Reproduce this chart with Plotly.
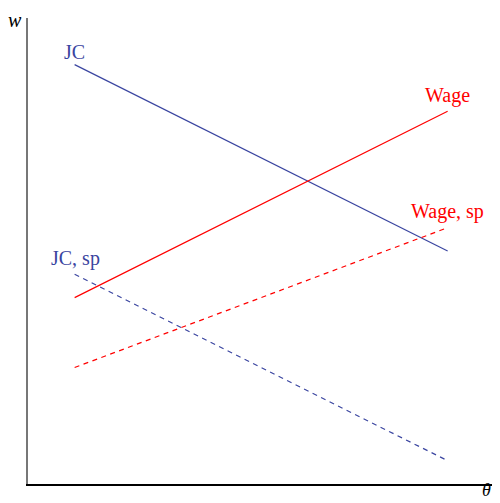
import plotly.graph_objects as go

theta = [1, 9]
jc = [9, 5]
wage = [4, 8]
wage_sp = [2.5, 5.5]
jc_sp = [4.5, 0.5]

BLUE = "#3a45a0"
RED = "#ff0000"
FONT = "Liberation Serif"

fig = go.Figure()
fig.add_trace(go.Scatter(x=theta, y=jc, mode="lines", line=dict(color=BLUE, width=1.2)))
fig.add_trace(go.Scatter(x=theta, y=wage, mode="lines", line=dict(color=RED, width=1.2)))
fig.add_trace(go.Scatter(x=theta, y=wage_sp, mode="lines", line=dict(color=RED, width=1.2, dash="5px,4.5px")))
fig.add_trace(go.Scatter(x=theta, y=jc_sp, mode="lines", line=dict(color=BLUE, width=1.2, dash="5px,4.5px")))

labels = [
    ("JC", 1.0, 9.28, BLUE),
    ("JC, sp", 1.02, 4.83, BLUE),
    ("Wage", 9.0, 8.33, RED),
    ("Wage, sp", 9.0, 5.84, RED),
]
for txt, x, y, c in labels:
    fig.add_annotation(x=x, y=y, text=txt, showarrow=False, xanchor="center", yanchor="middle",
                       font=dict(family=FONT, size=20, color=c))

fig.add_annotation(xref="paper", yref="paper", x=-0.028, y=0.995, text="<i>w</i>",
                   xanchor="center", yanchor="middle",
                   showarrow=False, font=dict(family=FONT, size=20, color="black"))
fig.add_annotation(xref="paper", yref="paper", x=0.975, y=-0.012, text="<i>θ</i>",
                   xanchor="center", yanchor="middle",
                   showarrow=False, font=dict(family=FONT, size=18, color="black"))

# page body has an 8px default margin; compensate so the plot sits where the reference does
fig.update_layout(
    width=492, height=495,
    margin=dict(l=20, r=2, t=10, b=19),
    paper_bgcolor="rgba(0,0,0,0)", plot_bgcolor="white",
    showlegend=False,
    xaxis=dict(range=[0, 10.08], showgrid=False, zeroline=False, showticklabels=False,
               ticks="", showline=True, linecolor="black", linewidth=1.5),
    yaxis=dict(range=[0, 10.0], showgrid=False, zeroline=False, showticklabels=False,
               ticks="", showline=True, linecolor="#777777", linewidth=1.5),
)
fig.write_html("out.html")
